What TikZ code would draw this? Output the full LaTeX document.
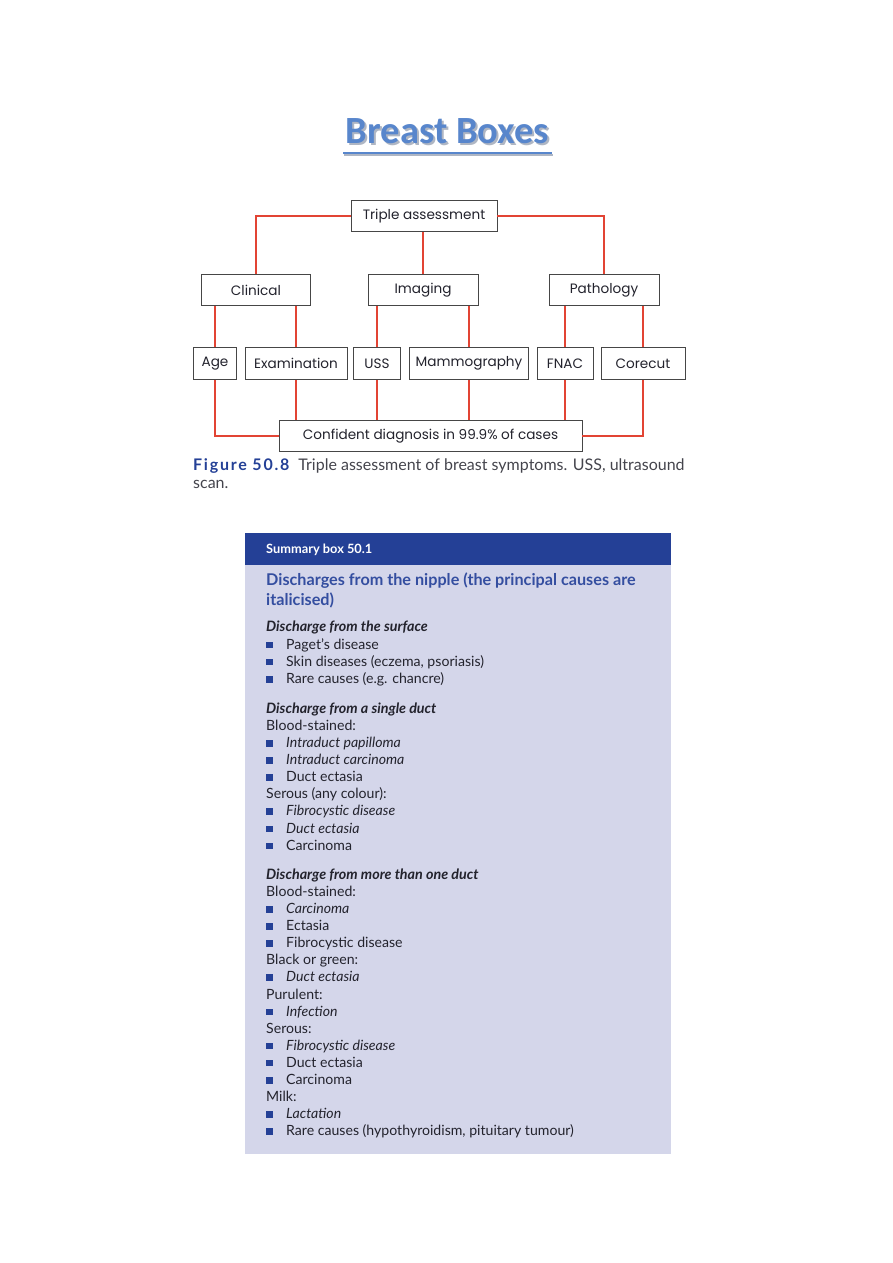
\documentclass[tikz,border=0pt]{standalone}
\usepackage{fontspec}
\setmainfont{Lato}
\newfontfamily\diagfont{Poppins}
\newfontfamily\titlefont{Carlito}
\usetikzlibrary{positioning}

\definecolor{linkred}{RGB}{226,68,52}
\definecolor{boxgray}{RGB}{70,70,70}
\definecolor{titleblue}{RGB}{88,134,204}
\definecolor{shadegray}{RGB}{175,182,195}
\definecolor{headblue}{RGB}{36,64,150}
\definecolor{paleblue}{RGB}{212,214,234}
\definecolor{textblue}{RGB}{52,78,160}
\definecolor{ink}{RGB}{35,35,45}

\newcommand{\sqbul}{\textcolor{headblue}{\rule[1pt]{6.5pt}{6.5pt}}\hspace{13.5pt}}

\tikzset{
  box/.style={draw=boxgray, line width=0.9pt, fill=white, minimum height=31.5pt,
    inner sep=0pt, text=ink, font=\diagfont\fontsize{13.6}{16}\selectfont},
  link/.style={draw=linkred, line width=1.8pt},
  entry/.style={anchor=base west, inner sep=0pt, text=ink, font=\fontsize{14.1}{16}\selectfont},
  sechead/.style={entry, font=\fontsize{14.3}{16}\selectfont\bfseries\itshape},
}

\begin{document}
\begin{tikzpicture}[x=1pt, y=-1pt]
\useasboundingbox (0,0) rectangle (893,1263);

% title
\node[anchor=base, inner sep=0pt, text=shadegray, font=\titlefont\bfseries\fontsize{38.5}{44}\selectfont]
  (titleshade) at (449.5,145) {Breast Boxes};
\node[anchor=base, inner sep=0pt, text=titleblue, font=\titlefont\bfseries\fontsize{38.5}{44}\selectfont]
  (title) at (447.5,143) {Breast Boxes};
\draw[shadegray, line width=2pt] (344,154.5) -- (553,154.5);
\draw[titleblue, line width=2pt] (343,152.5) -- (552,152.5);

% figure 50.8
\node[box, minimum width=146pt] (triple) at (424,216) {Triple assessment};
\node[box, minimum width=109pt] (clinical) at (256,290) {Clinical};
\node[box, minimum width=110pt] (imaging) at (423,290) {Imaging};
\node[box, minimum width=110pt] (pathology) at (604,290) {Pathology};
\node[box, minimum width=43pt] (age) at (215,363.5) {Age};
\node[box, minimum width=102pt] (exam) at (296,363.5) {Examination};
\node[box, minimum width=47pt] (uss) at (377,363.5) {USS};
\node[box, minimum width=119pt] (mammo) at (469,363.5) {Mammography};
\node[box, minimum width=56pt] (fnac) at (565,363.5) {FNAC};
\node[box, minimum width=84pt] (corecut) at (643,363.5) {Corecut};
\node[box, minimum width=303pt] (confident) at (430.5,436) {Confident diagnosis in 99.9\% of cases};

\draw[link] (triple.west) -| (clinical.north);
\draw[link] (triple.east) -| (pathology.north);
\draw[link] (imaging.north |- triple.south) -- (imaging.north);
\draw[link] (age.north) -- (age.north |- clinical.south);
\draw[link] (exam.north) -- (exam.north |- clinical.south);
\draw[link] (uss.north) -- (uss.north |- imaging.south);
\draw[link] (mammo.north) -- (mammo.north |- imaging.south);
\draw[link] (fnac.north) -- (fnac.north |- pathology.south);
\draw[link] (corecut.north) -- (corecut.north |- pathology.south);
\draw[link] (age.south) |- (confident.west);
\draw[link] (exam.south) -- (exam.south |- confident.north);
\draw[link] (uss.south) -- (uss.south |- confident.north);
\draw[link] (mammo.south) -- (mammo.south |- confident.north);
\draw[link] (fnac.south) -- (fnac.south |- confident.north);
\draw[link] (corecut.south) |- (confident.east);

% caption
\node[anchor=base west, inner sep=0pt, text=ink!85, font=\fontsize{16}{18}\selectfont] (caption) at (193,470)
  {{\color{headblue}\bfseries\addfontfeatures{LetterSpace=11}Figure 50.8}\hspace{9pt}Triple assessment of breast symptoms. USS, ultrasound};
\node[anchor=base west, inner sep=0pt, text=ink!85, font=\fontsize{16}{18}\selectfont] (caption2) at (193,488) {scan.};

% summary box 50.1
\fill[headblue] (245,533) rectangle (671,565);
\fill[paleblue] (245,565) rectangle (671,1154);
\node[anchor=base west, inner sep=0pt, text=white, font=\bfseries\fontsize{12.8}{14}\selectfont] (boxhead) at (266,553) {Summary box 50.1};
\node[anchor=base west, inner sep=0pt, text=textblue, font=\bfseries\fontsize{16.2}{20}\selectfont] (boxtitle) at (266,585)
  {Discharges from the nipple (the principal causes are};
\node[anchor=base west, inner sep=0pt, text=textblue, font=\bfseries\fontsize{16.2}{20}\selectfont] (boxtitle2) at (266,605) {italicised)};

\node[sechead] (surface) at (266,631.7) {Discharge from the surface};
\node[entry] (s1) at (266,649) {\sqbul Paget’s disease};
\node[entry] (s2) at (266,666.3) {\sqbul Skin diseases (eczema, psoriasis)};
\node[entry] (s3) at (266,683.6) {\sqbul Rare causes (e.g. chancre)};

\node[sechead] (single) at (266,713.3) {Discharge from a single duct};
\node[entry] (d1) at (266,730.4) {Blood-stained:};
\node[entry] (d2) at (266,747.5) {\sqbul\itshape Intraduct papilloma};
\node[entry] (d3) at (266,764.6) {\sqbul\itshape Intraduct carcinoma};
\node[entry] (d4) at (266,781.7) {\sqbul Duct ectasia};
\node[entry] (d5) at (266,798.8) {Serous (any colour):};
\node[entry] (d6) at (266,815.9) {\sqbul\itshape Fibrocystic disease};
\node[entry] (d7) at (266,833) {\sqbul\itshape Duct ectasia};
\node[entry] (d8) at (266,850.1) {\sqbul Carcinoma};

\node[sechead] (multi) at (266,879) {Discharge from more than one duct};
\node[entry] (m1) at (266,896.4) {Blood-stained:};
\node[entry] (m2) at (266,913.5) {\sqbul\itshape Carcinoma};
\node[entry] (m3) at (266,930.6) {\sqbul Ectasia};
\node[entry] (m4) at (266,947.7) {\sqbul Fibrocystic disease};
\node[entry] (m5) at (266,964.8) {Black or green:};
\node[entry] (m6) at (266,981.9) {\sqbul\itshape Duct ectasia};
\node[entry] (m7) at (266,999) {Purulent:};
\node[entry] (m8) at (266,1016.1) {\sqbul\itshape Infection};
\node[entry] (m9) at (266,1033.2) {Serous:};
\node[entry] (m10) at (266,1050.3) {\sqbul\itshape Fibrocystic disease};
\node[entry] (m11) at (266,1067.4) {\sqbul Duct ectasia};
\node[entry] (m12) at (266,1084.5) {\sqbul Carcinoma};
\node[entry] (m13) at (266,1101.6) {Milk:};
\node[entry] (m14) at (266,1118.7) {\sqbul\itshape Lactation};
\node[entry] (m15) at (266,1135.8) {\sqbul Rare causes (hypothyroidism, pituitary tumour)};
\end{tikzpicture}
\end{document}
